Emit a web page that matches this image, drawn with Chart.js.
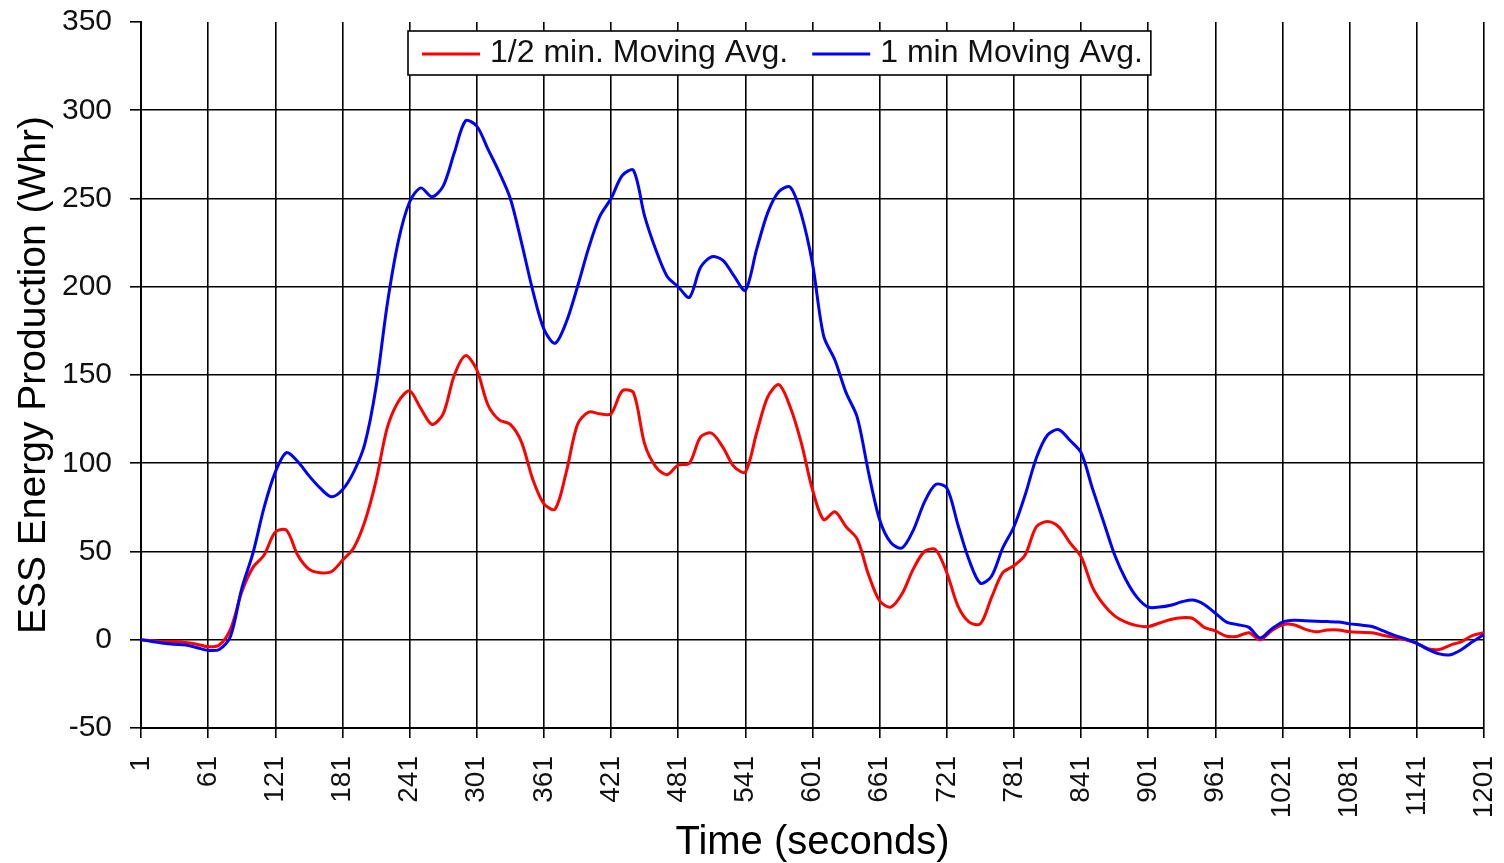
<!DOCTYPE html>
<html>
<head>
<meta charset="utf-8">
<title>ESS Energy Production</title>
<script src="https://cdn.jsdelivr.net/npm/chart.js@4"></script>
<style>
  html, body { margin: 0; padding: 0; background: #ffffff; }
  #wrap { width: 1504px; height: 863px; }
</style>
</head>
<body>
<div id="wrap"><canvas id="chart" width="1504" height="863"></canvas></div>
<script>
// Sample times (seconds), one every 10 s
const seconds = [
  1, 11, 21, 31, 41, 51, 61, 71, 81, 91,
  101, 111, 121, 131, 141, 151, 161, 171, 181, 191,
  201, 211, 221, 231, 241, 251, 261, 271, 281, 291,
  301, 311, 321, 331, 341, 351, 361, 371, 381, 391,
  401, 411, 421, 431, 441, 451, 461, 471, 481, 491,
  501, 511, 521, 531, 541, 551, 561, 571, 581, 591,
  601, 611, 621, 631, 641, 651, 661, 671, 681, 691,
  701, 711, 721, 731, 741, 751, 761, 771, 781, 791,
  801, 811, 821, 831, 841, 851, 861, 871, 881, 891,
  901, 911, 921, 931, 941, 951, 961, 971, 981, 991,
  1001, 1011, 1021, 1031, 1041, 1051, 1061, 1071, 1081, 1091,
  1101, 1111, 1121, 1131, 1141, 1151, 1161, 1171, 1181, 1191,
  1201
];

// 1/2 min. moving average of ESS energy production (Whr)
const halfMinAvg = [
  0, -0.5, -1, -1, -1.5, -2.5, -4, -3, 6, 27,
  41, 48, 61, 62, 48, 40, 38, 38.5, 45, 52,
  67, 90, 120, 135, 141, 131, 122, 128, 150, 161,
  153, 133, 124.6, 122, 112, 91, 77, 74, 95, 122,
  129, 128, 128, 141, 140, 111, 98, 93.5, 99, 100,
  115, 117, 109, 98, 95, 117, 137.6, 144.5, 132, 111.5,
  85, 68, 72.5, 64, 57, 37, 22, 18.5, 26, 40,
  50, 51, 38, 19, 10, 9, 24, 38, 42, 48,
  64, 67, 64, 55, 47, 30, 20, 13.5, 10, 8,
  7.5, 9.5, 11.5, 12.5, 12, 7, 5, 2, 2, 4,
  0, 5, 8.5, 8.5, 6, 4.5, 5.5, 5.5, 4.5, 4.2,
  4, 2.5, 1.2, 0, -2, -5, -5.5, -3, -1, 2.5,
  4
];

// 1 min moving average of ESS energy production (Whr)
const oneMinAvg = [
  0, -1, -2, -2.5, -3, -4.5, -6, -5.5, 2, 29,
  49, 75, 95, 106, 101, 93, 86, 81, 85, 95,
  111, 143, 190, 226, 248, 256, 251, 257, 276, 294,
  291, 278, 265, 250, 225, 198, 176, 168, 180, 200,
  222, 240, 250, 263, 266, 240, 221, 206, 200, 194,
  211, 217, 215, 206, 198, 221, 242, 254, 256.5, 241,
  213, 172, 158.5, 140, 126, 95, 68, 55, 52, 62,
  78, 88, 86, 65, 45, 32, 36, 52, 64, 82,
  103, 116, 119, 113, 106, 86, 67, 48, 34, 24,
  18.5, 18.5, 19.5, 21.5, 22.5, 20, 15, 10, 8.5, 7,
  1, 6, 10, 11, 10.8, 10.5, 10.3, 10, 9, 8.3,
  7.5, 5, 2.5, 0.5, -2, -5.5, -8, -8.5, -5.5, -1,
  3
];

// Axis tick labels
const timeTicks = [1, 61, 121, 181, 241, 301, 361, 421, 481, 541, 601, 661, 721, 781, 841, 901, 961, 1021, 1081, 1141, 1201];
const energyTicks = [-50, 0, 50, 100, 150, 200, 250, 300, 350];

const seriesNames = ['1/2 min. Moving Avg.', '1 min Moving Avg.'];

const FONT = "'Liberation Sans', Arial, Helvetica, sans-serif";

// Boxed legend drawn inside the plot area, near the top
const insetLegend = {
  id: 'insetLegend',
  afterDraw(chart) {
    const { ctx, chartArea } = chart;
    const fontSize = 32;
    const sampleLen = 58, textGap = 10, itemGap = 24, padL = 14, padR = 8, boxH = 44;
    ctx.save();
    ctx.font = fontSize + 'px ' + FONT;
    const items = chart.data.datasets.map(ds => ({
      text: ds.label, color: ds.borderColor, w: ctx.measureText(ds.label).width
    }));
    let boxW = padL + padR;
    items.forEach((it, i) => { boxW += sampleLen + textGap + it.w + (i ? itemGap : 0); });
    const boxX = chartArea.left + 267;
    const boxY = chartArea.top + 9;
    ctx.fillStyle = '#ffffff';
    ctx.fillRect(boxX, boxY, boxW, boxH);
    ctx.lineWidth = 1.6;
    ctx.strokeStyle = '#000000';
    ctx.strokeRect(boxX, boxY, boxW, boxH);
    const midY = boxY + boxH / 2;
    let x = boxX + padL;
    items.forEach((it, i) => {
      if (i) x += itemGap;
      ctx.beginPath();
      ctx.lineWidth = 3;
      ctx.strokeStyle = it.color;
      ctx.moveTo(x, midY + 1);
      ctx.lineTo(x + sampleLen, midY + 1);
      ctx.stroke();
      x += sampleLen + textGap;
      ctx.fillStyle = '#111111';
      ctx.textBaseline = 'middle';
      ctx.textAlign = 'left';
      ctx.fillText(it.text, x, midY);
      x += it.w;
    });
    ctx.restore();
  }
};

const toPoints = vals => seconds.map((t, i) => ({ x: t, y: vals[i] }));

new Chart(document.getElementById('chart').getContext('2d'), {
  type: 'line',
  data: {
    datasets: [
      {
        label: seriesNames[0],
        data: toPoints(halfMinAvg),
        borderColor: '#ff0000',
        backgroundColor: '#ff0000',
        borderWidth: 3,
        pointRadius: 0,
        tension: 0.3,
        order: 1
      },
      {
        label: seriesNames[1],
        data: toPoints(oneMinAvg),
        borderColor: '#0000ff',
        backgroundColor: '#0000ff',
        borderWidth: 3,
        pointRadius: 0,
        tension: 0.3,
        order: 0
      }
    ]
  },
  options: {
    responsive: false,
    animation: false,
    layout: { padding: { left: 9, right: 20, top: 22, bottom: 0 } },
    plugins: {
      legend: { display: false },
      tooltip: { enabled: false }
    },
    scales: {
      x: {
        type: 'linear',
        min: 1,
        max: 1201,
        afterBuildTicks: s => { s.ticks = timeTicks.map(v => ({ value: v })); },
        afterFit: s => {
          s.height = 135;
          s.paddingLeft = 0;
          s.paddingRight = 0;
        },
        ticks: {
          autoSkip: false,
          minRotation: 90,
          maxRotation: 90,
          padding: 18,
          color: '#111111',
          font: { family: FONT, size: 28 },
          callback: v => String(v)
        },
        grid: { color: '#000000', lineWidth: 1.6, tickLength: 10, tickColor: '#000000' },
        border: { color: '#000000', width: 2 },
        title: {
          display: true,
          text: 'Time (seconds)',
          color: '#000000',
          font: { family: FONT, size: 40, lineHeight: 1.0 },
          padding: { top: 0, bottom: 0 }
        }
      },
      y: {
        min: -50,
        max: 350,
        afterBuildTicks: s => { s.ticks = energyTicks.map(v => ({ value: v })); },
        afterFit: s => {
          s.width = 132;
          s.paddingTop = 0;
          s.paddingBottom = 0;
        },
        ticks: {
          padding: 18,
          color: '#111111',
          font: { family: FONT, size: 30 }
        },
        grid: {
          color: c => (c.tick && c.tick.value === 350) ? 'rgba(0,0,0,0)' : '#000000',
          tickColor: '#000000',
          lineWidth: 1.6,
          tickLength: 11
        },
        border: { color: '#000000', width: 2 },
        title: {
          display: true,
          text: 'ESS Energy Production (Whr)',
          color: '#000000',
          font: { family: FONT, size: 39 },
          padding: { top: 2, bottom: 0 }
        }
      }
    }
  },
  plugins: [insetLegend]
});
</script>
</body>
</html>
